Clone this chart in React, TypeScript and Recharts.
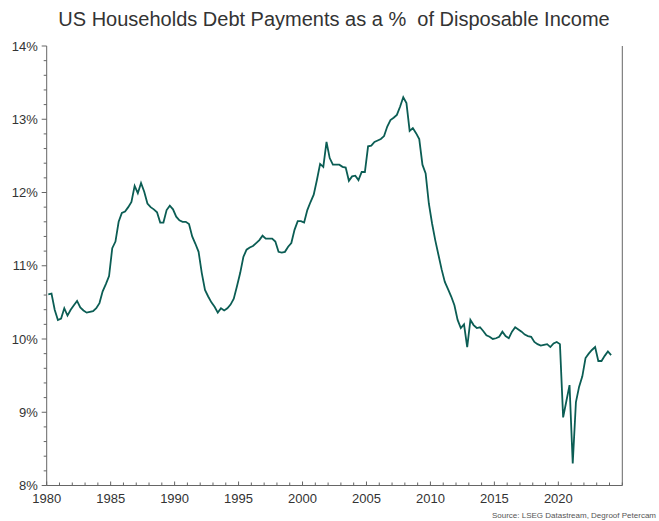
import React from 'react';
import { LineChart, Line, XAxis, YAxis } from 'recharts';

// quarterly readings, Q1..Q4 per year
const START_YEAR = 1980;

const values1980s = [
  10.61, 10.62, 10.4, 10.26,
  10.28, 10.42, 10.32, 10.4,
  10.46, 10.52, 10.43, 10.39,
  10.36, 10.37, 10.38, 10.42,
  10.49, 10.65, 10.75, 10.86,
  11.24, 11.33, 11.6, 11.72,
  11.74, 11.8, 11.87, 12.09,
  11.99, 12.13, 12.01, 11.85,
  11.8, 11.77, 11.73, 11.59,
  11.59, 11.76, 11.82, 11.77,
];

const values1990s = [
  11.67, 11.62, 11.6, 11.6,
  11.57, 11.4, 11.3, 11.19,
  10.9, 10.67, 10.58, 10.5,
  10.44, 10.36, 10.42, 10.39,
  10.42, 10.47, 10.55, 10.72,
  10.9, 11.12, 11.22, 11.25,
  11.27, 11.31, 11.35, 11.41,
  11.37, 11.37, 11.37, 11.33,
  11.19, 11.18, 11.19, 11.26,
  11.31, 11.49, 11.61, 11.61,
];

const values2000s = [
  11.59, 11.76, 11.87, 11.97,
  12.17, 12.39, 12.35, 12.69,
  12.47, 12.38, 12.38, 12.38,
  12.35, 12.34, 12.16, 12.22,
  12.23, 12.17, 12.28, 12.28,
  12.63, 12.64, 12.69, 12.71,
  12.73, 12.77, 12.9, 12.99,
  13.02, 13.06, 13.17, 13.3,
  13.22, 12.84, 12.88, 12.81,
  12.73, 12.38, 12.26, 11.85,
];

const values2010s = [
  11.58, 11.35, 11.15, 10.95,
  10.78, 10.68, 10.58, 10.46,
  10.26, 10.15, 10.2, 9.89,
  10.26, 10.19, 10.15, 10.16,
  10.11, 10.05, 10.03, 10.0,
  10.01, 10.03, 10.1, 10.04,
  10.01, 10.1, 10.16, 10.13,
  10.1, 10.06, 10.04, 10.03,
  9.96, 9.93, 9.91, 9.92,
  9.93, 9.89, 9.94, 9.96,
];

const values2020s = [
  9.93, 8.93, 9.15, 9.37,
  8.3, 9.14, 9.35, 9.49,
  9.74, 9.8, 9.85, 9.89,
  9.7, 9.7, 9.77, 9.83,
  9.78,
];

const xLabelYears = [1980, 1985, 1990, 1995, 2000, 2005, 2010, 2015, 2020];
const yMajor = [8, 9, 10, 11, 12, 13, 14];

const allValues = [...values1980s, ...values1990s, ...values2000s, ...values2010s, ...values2020s];
// plotted at mid-quarter
const data = allValues.map((v, i) => ({ t: START_YEAR + i / 4 + 0.125, v }));

const xTicks: number[] = [];
for (let y = 1980; y <= 2025; y++) xTicks.push(y);
const yTicks: number[] = [];
for (let i = 0; i <= 30; i++) yTicks.push(Math.round((8 + i * 0.2) * 10) / 10);

const FONT = '"Liberation Sans", Arial, Helvetica, sans-serif';
const TEXT = '#333333';
const AXIS = '#666666';
const LINE = '#0b5d54';

const isMajor = (v: number) => yMajor.includes(v);

const LeftTick = (props: any) => {
  const { x, y, payload } = props;
  const major = isMajor(payload.value);
  return (
    <g>
      <line x1={x - (major ? 5 : 3)} x2={x} y1={y} y2={y} stroke={AXIS} strokeWidth={1} />
      {major && (
        <text x={x - 9} y={y + 4.5} textAnchor="end" fontSize={13} fill={TEXT} fontFamily={FONT}>
          {payload.value}%
        </text>
      )}
    </g>
  );
};

const RightTick = (props: any) => {
  const { x, y, payload } = props;
  const major = isMajor(payload.value);
  return (
    <g>
      <line x1={x} x2={x + (major ? 5 : 3)} y1={y} y2={y} stroke={AXIS} strokeWidth={1} />
      {major && (
        <text x={x + 6} y={y + 4.5} textAnchor="start" fontSize={13} fill={TEXT} fontFamily={FONT}>
          {payload.value}%
        </text>
      )}
    </g>
  );
};

const BottomTick = (props: any) => {
  const { x, y, payload } = props;
  const labelled = xLabelYears.includes(payload.value);
  return (
    <g>
      <line x1={x} x2={x} y1={y} y2={y - (labelled ? 4 : 3)} stroke={AXIS} strokeWidth={1} />
      {labelled && (
        <text x={x} y={y + 17} textAnchor="middle" fontSize={13} fill={TEXT} fontFamily={FONT}>
          {payload.value}
        </text>
      )}
    </g>
  );
};

const App: React.FC = () => {
  return (
    <div
      style={{
        position: 'fixed',
        left: 0,
        top: 0,
        width: 659,
        height: 521,
        background: '#ffffff',
        fontFamily: FONT,
        overflow: 'hidden',
      }}
    >
      <div
        style={{
          position: 'absolute',
          left: 0,
          top: 8,
          width: 668,
          textAlign: 'center',
          fontSize: 20,
          color: TEXT,
          whiteSpace: 'pre',
        }}
      >
        {'US Households Debt Payments as a %  of Disposable Income'}
      </div>
      <LineChart
        width={659}
        height={521}
        data={data}
        margin={{ top: 46, right: 0, bottom: 0, left: 0 }}
      >
        <XAxis
          type="number"
          dataKey="t"
          domain={[1980, 2025]}
          ticks={xTicks}
          interval={0}
          height={35.5}
          tickSize={0}
          tickMargin={0}
          tickLine={false}
          axisLine={{ stroke: AXIS }}
          tick={<BottomTick />}
          allowDataOverflow
        />
        <YAxis
          yAxisId="left"
          orientation="left"
          type="number"
          domain={[8, 14]}
          ticks={yTicks}
          interval={0}
          width={46.7}
          tickSize={0}
          tickMargin={0}
          tickLine={false}
          axisLine={{ stroke: AXIS }}
          tick={<LeftTick />}
        />
        <YAxis
          yAxisId="right"
          orientation="right"
          type="number"
          domain={[8, 14]}
          ticks={yTicks}
          interval={0}
          width={36.7}
          tickSize={0}
          tickMargin={0}
          tickLine={false}
          axisLine={{ stroke: AXIS }}
          tick={<RightTick />}
        />
        <Line
          yAxisId="left"
          type="linear"
          dataKey="v"
          stroke={LINE}
          strokeWidth={1.8}
          dot={false}
          activeDot={false}
          isAnimationActive={false}
        />
      </LineChart>
      <div
        style={{
          position: 'absolute',
          right: 3,
          top: 511,
          fontSize: 8,
          color: '#555555',
          whiteSpace: 'nowrap',
        }}
      >
        Source: LSEG Datastream, Degroof Petercam
      </div>
    </div>
  );
};

export default App;
